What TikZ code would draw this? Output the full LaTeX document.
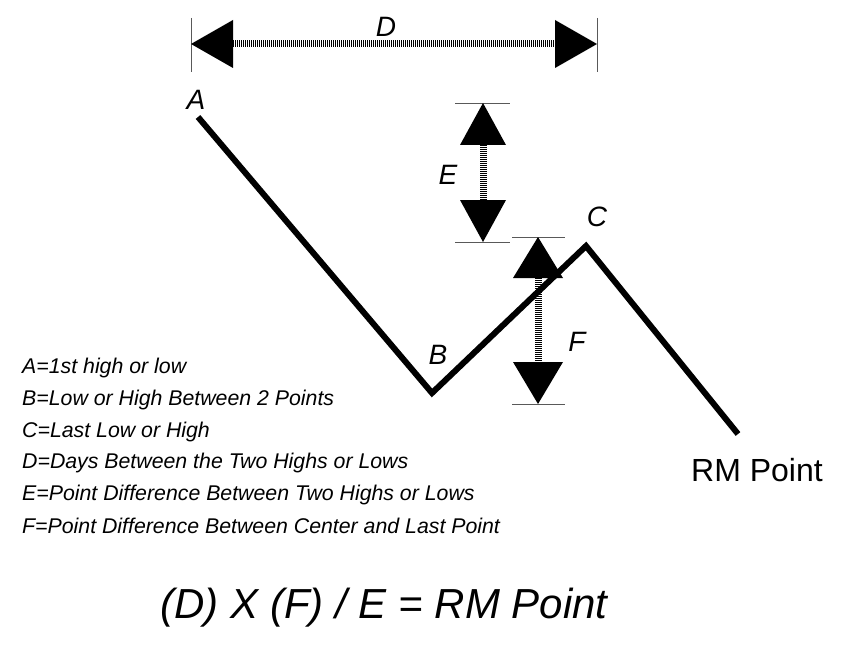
\documentclass[tikz,border=0pt]{standalone}
\usepackage{fontspec}
\setmainfont{Liberation Sans}
\begin{document}
\begin{tikzpicture}[x=1pt,y=-1pt,
  lbl/.style={font=\fontsize{28}{30}\selectfont\itshape,inner sep=0pt},
  leg/.style={font=\fontsize{21.3}{23}\selectfont\itshape,inner sep=0pt,anchor=west},
  tick/.style={line width=0.6pt,gray!70!black},
  head/.style={fill=black},
  shaft/.style={line width=7pt,dash pattern=on 1pt off 1pt}]
\useasboundingbox (0,0) rectangle (861,655);
% zigzag
\coordinate (A) at (198,117); \coordinate (B) at (432,393);
\coordinate (C) at (586,246); \coordinate (R) at (738,434);
\draw[line width=6pt,line join=miter] (A) -- (B) -- (C) -- (R);
\node[lbl] (lA) at (196,100) {A};
\node[lbl] (lB) at (438,355) {B};
\node[lbl] (lC) at (597,217) {C};
\node[lbl,font=\fontsize{32}{34}\selectfont] (lR) at (757,470) {RM Point};
% D
\draw[tick] (191,18) -- (191,72); \draw[tick] (597,18) -- (597,72);
\draw[shaft] (231,44) -- (557,44);
\fill[head] (191,44) -- (233,20) -- (233,68) -- cycle;
\fill[head] (597,44) -- (555,20) -- (555,68) -- cycle;
\node[lbl] (lD) at (386,27) {D};
% E
\draw[tick] (455,103) -- (510,103); \draw[tick] (455,242) -- (510,242);
\draw[shaft] (483,143) -- (483,202);
\fill[head] (483,103) -- (460,145) -- (506,145) -- cycle;
\fill[head] (483,242) -- (460,200) -- (506,200) -- cycle;
\node[lbl] (lE) at (448,175) {E};
% F
\draw[tick] (512,237) -- (565,237); \draw[tick] (512,404) -- (565,404);
\draw[shaft] (538,276) -- (538,364);
\fill[head] (538,237) -- (513,278) -- (563,278) -- cycle;
\fill[head] (538,404) -- (513,362) -- (563,362) -- cycle;
\node[lbl] (lF) at (577,342) {F};
% legend
\node[leg] (g1) at (22,368) {A=1st high or low};
\node[leg] (g2) at (22,400) {B=Low or High Between 2 Points};
\node[leg] (g3) at (22,432) {C=Last Low or High};
\node[leg] (g4) at (22,463) {D=Days Between the Two Highs or Lows};
\node[leg] (g5) at (22,495) {E=Point Difference Between Two Highs or Lows};
\node[leg] (g6) at (22,526) {F=Point Difference Between Center and Last Point};
\node[lbl,font=\fontsize{42}{46}\selectfont\itshape] (fm) at (384,608) {(D) X (F) / E = RM Point};
\end{tikzpicture}
\end{document}
